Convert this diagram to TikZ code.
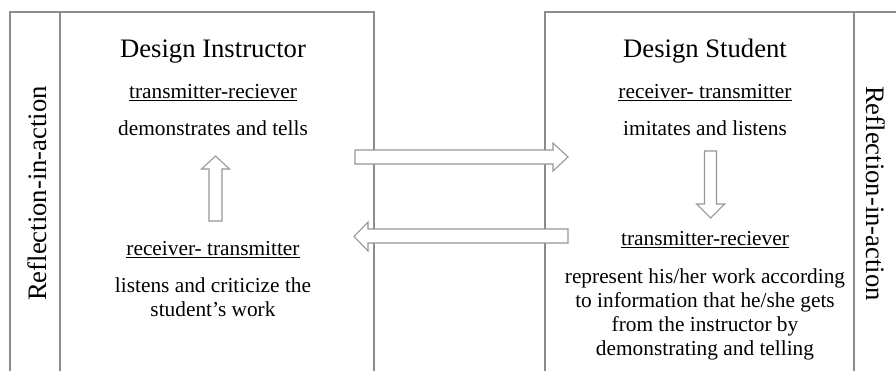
\documentclass[tikz,border=0pt]{standalone}
\usepackage{fontspec}
\setmainfont{Liberation Serif}
\definecolor{framegray}{RGB}{140,140,140}
\definecolor{arrowgray}{RGB}{150,150,150}
\begin{document}
\begin{tikzpicture}[x=0.75pt,y=-0.75pt,
  frame/.style={draw=framegray,line width=1pt},
  blockarrow/.style={draw=arrowgray,fill=white,line width=0.8pt,line join=miter},
  heading/.style={inner sep=0pt,anchor=base,font=\fontsize{20}{24}\selectfont},
  txt/.style={inner sep=0pt,anchor=base,align=center,font=\fontsize{16}{18}\selectfont},
  sidelabel/.style={inner sep=0pt,anchor=base,font=\fontsize{20}{24}\selectfont}]
\useasboundingbox (0,0) rectangle (896,371);

% instructor frame
\draw[frame] (10,380) -- (10,12) -- (374,12) -- (374,380);
\draw[frame] (60,12) -- (60,380);
% student frame
\draw[frame] (545,380) -- (545,12) -- (900,12);
\draw[frame] (854,12) -- (854,380);

% side labels
\node[sidelabel,rotate=90] (reflL) at (46,193.5) {Reflection-in-action};
\node[sidelabel,rotate=-90] (reflR) at (866,193.5) {Reflection-in-action};

% instructor column (multi-line nodes sit on the baseline of their last line)
\node[heading] (instr) at (213,57) {Design Instructor};
\node[txt] (instrRole) at (213,98) {\underline{transmitter-reciever}};
\node[txt] (instrAct) at (213,135) {demonstrates and tells};
\node[txt] (instrRole2) at (213,255) {\underline{receiver- transmitter}};
\node[txt] (instrAct2) at (213,316) {listens and criticize the\\student’s work};

% student column
\node[heading] (stud) at (705,57) {Design Student};
\node[txt] (studRole) at (705,98) {\underline{receiver- transmitter}};
\node[txt] (studAct) at (705,135) {imitates and listens};
\node[txt] (studRole2) at (705,245) {\underline{transmitter-reciever}};
\node[txt] (studAct2) at (705,355) {represent his/her work according\\to information that he/she gets\\from the instructor by\\demonstrating and telling};

% block arrows
\draw[blockarrow] (355,150) -- (553,150) -- (553,143) -- (568,157) -- (553,171) -- (553,164) -- (355,164) -- cycle;
\draw[blockarrow] (568,229) -- (368,229) -- (368,222) -- (354,236.5) -- (368,251) -- (368,243) -- (568,243) -- cycle;
\draw[blockarrow] (209,221) -- (209,169) -- (201.5,169) -- (215.5,156) -- (229.5,169) -- (222,169) -- (222,221) -- cycle;
\draw[blockarrow] (704.5,151) -- (704.5,204) -- (696.5,204) -- (710.5,218) -- (724.5,204) -- (716.5,204) -- (716.5,151) -- cycle;
\end{tikzpicture}
\end{document}
